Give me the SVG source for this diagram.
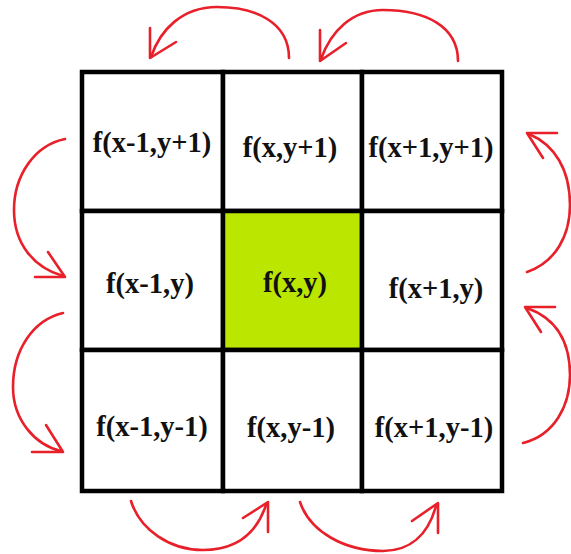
<svg xmlns="http://www.w3.org/2000/svg" width="571" height="554" viewBox="0 0 571 554">
<style>
.cell{fill:#fff;stroke:#000;stroke-width:4.5}
.hl{fill:#bbe600}
.lbl{font-family:"Liberation Serif",serif;font-weight:bold;font-size:28.5px;fill:#111;text-anchor:middle}
.arc{fill:none;stroke:#e8202a;stroke-width:2.6;stroke-linecap:round;stroke-linejoin:round}
</style>
<rect width="571" height="554" fill="#fff"/>
<g id="n-x-1_y+1"><rect class="cell" x="82" y="72" width="141" height="139"/><text class="lbl" x="152" y="152">f(x-1,y+1)</text></g>
<g id="n-x_y+1"><rect class="cell" x="223" y="72" width="139" height="139"/><text class="lbl" x="290" y="157">f(x,y+1)</text></g>
<g id="n-x+1_y+1"><rect class="cell" x="362" y="72" width="140" height="139"/><text class="lbl" x="431" y="157">f(x+1,y+1)</text></g>
<g id="n-x-1_y"><rect class="cell" x="82" y="211" width="141" height="139"/><text class="lbl" x="150" y="293">f(x-1,y)</text></g>
<g id="n-x_y"><rect class="cell hl" x="223" y="211" width="139" height="139"/><text class="lbl" x="295" y="292">f(x,y)</text></g>
<g id="n-x+1_y"><rect class="cell" x="362" y="211" width="140" height="139"/><text class="lbl" x="436" y="298">f(x+1,y)</text></g>
<g id="n-x-1_y-1"><rect class="cell" x="82" y="350" width="141" height="141"/><text class="lbl" x="152" y="436">f(x-1,y-1)</text></g>
<g id="n-x_y-1"><rect class="cell" x="223" y="350" width="139" height="141"/><text class="lbl" x="291" y="437">f(x,y-1)</text></g>
<g id="n-x+1_y-1"><rect class="cell" x="362" y="350" width="140" height="141"/><text class="lbl" x="434" y="437">f(x+1,y-1)</text></g>
<g id="connectors">
<path class="arc" d="M289,58 C289,22 255,7 217,7 C182,7 160,30 151,57"/>
<path class="arc" d="M150,28 L150,58 L176,42"/>
<path class="arc" d="M458,61 C458,26 425,10 383,10 C352,10 331,31 321,59"/>
<path class="arc" d="M320,30 L320,61 L346,43"/>
<path class="arc" d="M527,272 C556,262 570,235 570,205 C570,170 555,145 529,134"/>
<path class="arc" d="M557,133 L527,133 L543,158"/>
<path class="arc" d="M523,443 C555,435 570,405 570,375 C570,340 555,318 527,308"/>
<path class="arc" d="M555,307 L525,307 L541,332"/>
<path class="arc" d="M65,139 C35,145 14,175 14,210 C14,245 35,268 63,276"/>
<path class="arc" d="M35,277 L65,277 L48,252"/>
<path class="arc" d="M63,313 C33,320 13,350 13,387 C13,420 35,445 61,451"/>
<path class="arc" d="M32,452 L63,452 L46,425"/>
<path class="arc" d="M131,501 C140,530 170,550 203,550 C235,550 256,535 266,505"/>
<path class="arc" d="M268,532 L268,502 L243,518"/>
<path class="arc" d="M300,502 C310,532 345,551 383,551 C410,551 428,535 436,506"/>
<path class="arc" d="M438,533 L438,503 L412,521"/>
</g>
</svg>
